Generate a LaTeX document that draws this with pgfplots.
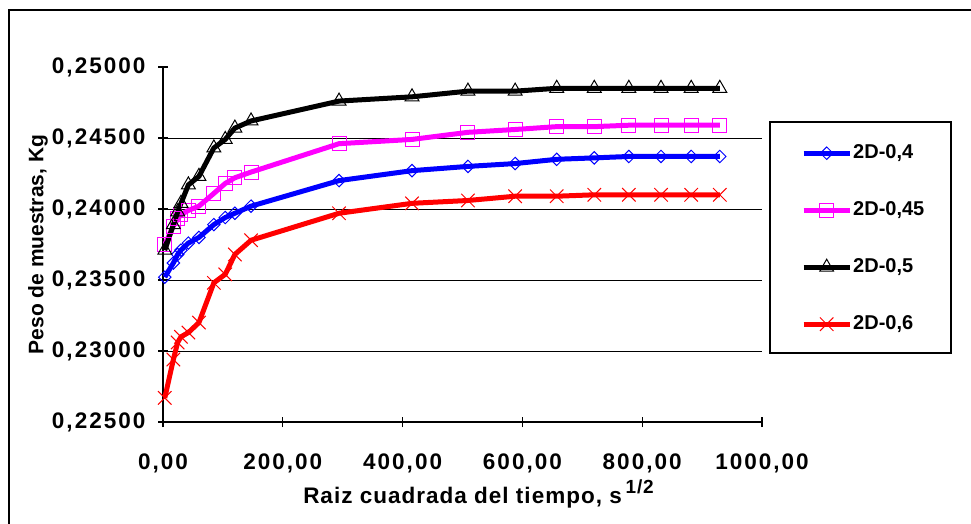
\documentclass[border=0pt]{standalone}
\usepackage{fontspec}
\setmainfont{Liberation Sans}
\newfontfamily\widefont[LetterSpace=4.5]{Liberation Sans}
\newfontfamily\tickfont[LetterSpace=9]{Liberation Sans}
\usepackage{pgfplots}
\pgfplotsset{compat=1.18}
\definecolor{myblue}{RGB}{0,0,255}
\definecolor{mymag}{RGB}{255,0,255}
\definecolor{myred}{RGB}{255,0,0}

\begin{document}
\begin{tikzpicture}[x=1pt,y=1pt]
\clip (0,0) rectangle (971,523);
\fill[white] (0,0) rectangle (971,523);
\draw[line width=1.5pt] (9,-10) -- (9,513) -- (990,513);
\begin{axis}[at={(163pt,101pt)}, anchor=south west, scale only axis,
  width=599pt, height=355pt,
  xmin=0, xmax=1000, ymin=0.225, ymax=0.25,
  xtick={0,200,400,600,800,1000},
  ytick={0.225,0.23,0.235,0.24,0.245,0.25},
  extra y ticks={0.23,0.235,0.24,0.245}, extra y tick labels={},
  extra y tick style={grid=major},
  major grid style={black, line width=1pt},
  axis lines*=left, axis line style={black, line width=1.2pt},
  tick align=center, major tick length=10pt, tick style={black, line width=1.2pt},
  /pgf/number format/assume math mode=true,
  ticklabel style={font=\tickfont\fontsize{22.5}{27}\selectfont\bfseries},
  xticklabel style={yshift=-23pt, /pgf/number format/.cd, fixed, fixed zerofill, precision=2, use comma, 1000 sep={}},
  yticklabel style={xshift=-9pt, /pgf/number format/.cd, fixed, fixed zerofill, precision=5, use comma, 1000 sep={}},
  scaled y ticks=false,
  xlabel={\widefont\bfseries Raiz cuadrada del tiempo, s\,\raisebox{0.45em}{\fontsize{19}{22}\selectfont 1/2}},
  ylabel={Peso de muestras, Kg},
  xlabel style={font=\fontsize{22.5}{27}\selectfont\bfseries, at={(axis description cs:0.5267,-0.229)}, anchor=base},
  ylabel style={font=\fontsize{21}{25}\selectfont\bfseries, at={(axis description cs:-0.2087,0.5)}, anchor=center},
  legend style={at={(1.0651,0.7845)}, anchor=north west, draw=none, fill=none,
    inner sep=0pt, row sep=38pt,
    nodes={inner sep=1pt, text height=14pt, text depth=3pt, anchor=west,
      font=\fontsize{20}{24}\selectfont\bfseries}},
  legend cell align=left,
  legend image code/.code={\draw[mark repeat=2,mark phase=2,#1] plot coordinates {(0pt,0pt) (23pt,0pt) (46pt,0pt)};},
]
\addplot[myblue, line width=5pt, mark=square, mark size=4.4pt,
  mark options={solid, draw=myblue, fill=white, line width=1pt, rotate=45}] coordinates {
(3,0.2352) (17.3,0.2362) (24.5,0.2368) (30,0.2371) (42.4,0.2376) (60,0.2380)
(84.9,0.2389) (103.9,0.2394) (120,0.2397) (147,0.2402) (293.9,0.2420)
(415.7,0.2427) (509.1,0.2430) (587.9,0.2432) (657.3,0.2435) (720,0.2436)
(777.7,0.2437) (831.4,0.2437) (881.8,0.2437) (929.5,0.2437)};
\addlegendentry{2D-0,4}
\addplot[mymag, line width=5pt, mark=square, mark size=7pt,
  mark options={solid, draw=mymag, fill=white, line width=1pt}] coordinates {
(3,0.2375) (17.3,0.2388) (24.5,0.2393) (30,0.2396) (42.4,0.2399) (60,0.2402)
(84.9,0.2411) (103.9,0.2418) (120,0.2422) (147,0.2426) (293.9,0.2446)
(415.7,0.2449) (509.1,0.2454) (587.9,0.2456) (657.3,0.2458) (720,0.2458)
(777.7,0.2459) (831.4,0.2459) (881.8,0.2459) (929.5,0.2459)};
\addlegendentry{2D-0,45}
\addplot[black, line width=5pt, mark=triangle, mark size=8pt,
  mark options={solid, draw=black, fill=white, line width=1pt}] coordinates {
(3,0.2371) (17.3,0.2389) (24.5,0.2398) (30,0.2404) (42.4,0.2417) (60,0.2423)
(84.9,0.2443) (103.9,0.2449) (120,0.2457) (147,0.2462) (293.9,0.2476)
(415.7,0.2479) (509.1,0.2483) (587.9,0.2483) (657.3,0.2485) (720,0.2485)
(777.7,0.2485) (831.4,0.2485) (881.8,0.2485) (929.5,0.2485)};
\addlegendentry{2D-0,5}
\addplot[myred, line width=5pt, mark=x, mark size=9.5pt,
  mark options={solid, draw=myred, line width=1pt}] coordinates {
(3,0.2267) (17.3,0.2294) (24.5,0.2306) (30,0.2310) (42.4,0.2313) (60,0.2320)
(84.9,0.2348) (103.9,0.2354) (120,0.2368) (147,0.2378) (293.9,0.2397)
(415.7,0.2404) (509.1,0.2406) (587.9,0.2409) (657.3,0.2409) (720,0.2410)
(777.7,0.2410) (831.4,0.2410) (881.8,0.2410) (929.5,0.2410)};
\addlegendentry{2D-0,6}
\end{axis}
\draw[line width=1.2pt] (770,170) rectangle (951,401);
\end{tikzpicture}
\end{document}
